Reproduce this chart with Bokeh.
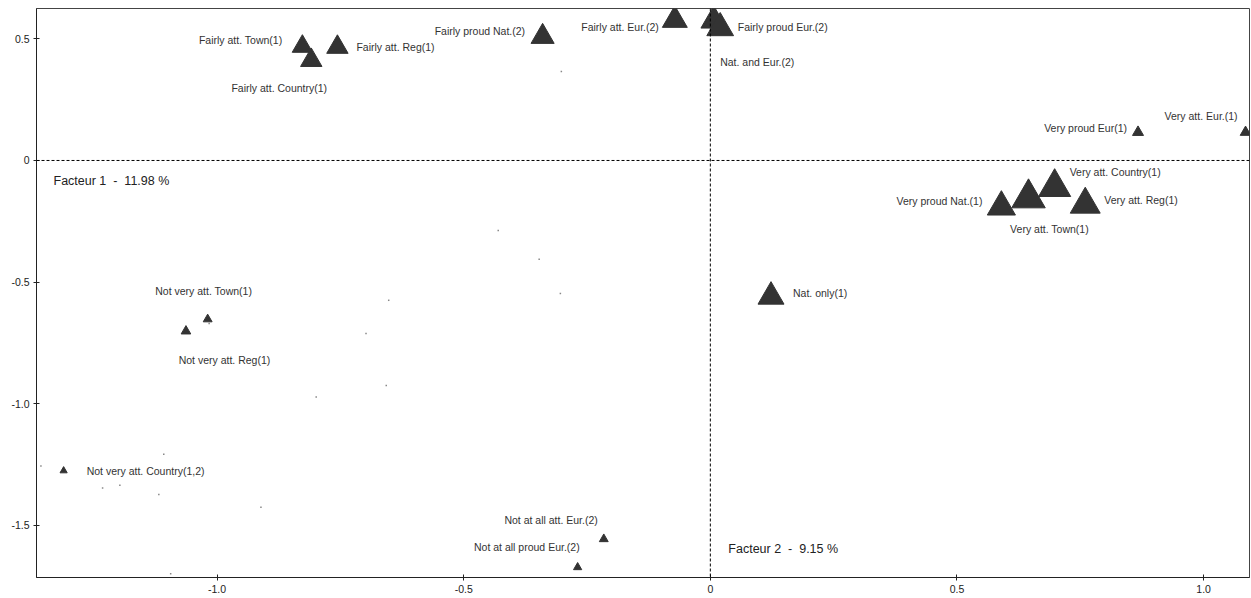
from bokeh.plotting import figure
from bokeh.models import ColumnDataSource, Span, Label, FixedTicker, Range1d
from bokeh.core.properties import value
from bokeh.embed import file_html
from bokeh.resources import INLINE

# ---- data ----
labels = ["Fairly att. Town(1)", "Fairly att. Country(1)", "Fairly att. Reg(1)",
          "Fairly proud Nat.(2)", "Fairly att. Eur.(2)", "Fairly proud Eur.(2)",
          "Nat. and Eur.(2)", "Very proud Eur(1)", "Very att. Eur.(1)",
          "Very att. Country(1)", "Very att. Town(1)", "Very proud Nat.(1)",
          "Very att. Reg(1)", "Nat. only(1)", "Not very att. Town(1)",
          "Not very att. Reg(1)", "Not very att. Country(1,2)",
          "Not at all att. Eur.(2)", "Not at all proud Eur.(2)"]
fac1 = [-0.827, -0.809, -0.756, -0.340, -0.072, 0.007, 0.020, 0.867, 1.085,
        0.698, 0.645, 0.590, 0.760, 0.123, -1.019, -1.063, -1.311, -0.216, -0.269]
fac2 = [0.469, 0.412, 0.466, 0.509, 0.577, 0.575, 0.545, 0.116, 0.116,
        -0.110, -0.155, -0.191, -0.181, -0.560, -0.653, -0.702, -1.276, -1.557, -1.673]
weight = [19, 20, 20, 21.6, 23.3, 24, 25, 10.3, 10, 30, 31.3, 26.3, 28, 24.3,
          8.3, 9, 6.7, 8.3, 7.7]

minor_x = [-0.302, -0.430, -0.347, -0.304, -0.652, -0.698, -0.657, -0.799, -1.357,
           -1.108, -1.232, -1.197, -1.118, -0.911, -1.094, -1.016]
minor_y = [0.366, -0.288, -0.406, -0.547, -0.575, -0.712, -0.925, -0.973, -1.256,
           -1.208, -1.347, -1.336, -1.374, -1.426, -1.700, -0.670]

x_ticks = [-1.0, -0.5, 0, 0.5, 1.0]
x_tick_labels = ["-1.0", "-0.5", "0", "0.5", "1.0"]
y_ticks = [0.5, 0, -0.5, -1.0, -1.5]
y_tick_labels = ["0.5", "0", "-0.5", "-1.0", "-1.5"]

NB = "\u00a0"
factor1_label = f"Facteur 1{NB}{NB}-{NB}{NB}11.98 %"
factor2_label = f"Facteur 2{NB}{NB}-{NB}{NB}9.15 %"

# ---- label layout (screen px offsets, y down) ----
align = ["right", "center", "left", "right", "right", "left", "left", "right", "right",
         "left", "center", "right", "left", "left", "center", "center", "left", "right", "right"]
dx = [-20, -32, 19, -17.5, -16, 24, 0, -11, -8, 15, 21, -19, 19, 22, -4, 38.5, 23, -6, 2]
dy = [-6, 28, 0, -6, 6.5, 6, 34, -4, -16, -15, 30.6, -6, -4, -4, -28, 28.5, 0, -19, -20]

FONT = "Liberation Sans"
INK = "#333333"

p = figure(width=1251, height=598, output_backend="svg", toolbar_location=None,
           x_range=Range1d(-1.366, 1.093), y_range=Range1d(-1.715, 0.625),
           min_border_left=36, min_border_right=2, min_border_top=8, min_border_bottom=21)
p.xgrid.visible = False
p.ygrid.visible = False
p.outline_line_color = "#444444"
p.background_fill_color = "white"

for ax, ticks, tl in ((p.xaxis[0], x_ticks, x_tick_labels), (p.yaxis[0], y_ticks, y_tick_labels)):
    ax.ticker = FixedTicker(ticks=ticks)
    ax.major_label_overrides = {t: l for t, l in zip(ticks, tl)}
    ax.minor_tick_line_color = None
    ax.major_tick_in = 3
    ax.major_tick_out = 3
    ax.axis_line_color = "#222222"
    ax.major_tick_line_color = "#222222"
    ax.major_label_text_font = FONT
    ax.major_label_text_font_size = "10.5px"
    ax.major_label_text_color = "#222222"
    ax.major_label_standoff = 4

p.add_layout(Span(location=0, dimension="width", line_color="black", line_dash="3 2", line_width=1))
p.add_layout(Span(location=0, dimension="height", line_color="black", line_dash="3 2", line_width=1))

p.scatter(minor_x, minor_y, marker="square", size=1.5, fill_color="#888888", line_color=None)

src = ColumnDataSource(dict(x=fac1, y=fac2, w=[v * 1.07 for v in weight], lab=labels,
                            al=align, dx=dx, dy=dy))
p.scatter("x", "y", source=src, marker="triangle", size="w", fill_color=INK, line_color=INK)
p.text("x", "y", text="lab", source=src, text_align="al", text_baseline="middle",
       x_offset="dx", y_offset="dy", text_font=value(FONT), text_font_size="10.5px",
       text_color=INK)

p.add_layout(Label(x=-1.366, y=0, x_offset=17, y_offset=-21, text=factor1_label,
                   text_font=FONT, text_font_size="12.5px", text_color="#222222",
                   text_baseline="middle"))
p.add_layout(Label(x=0, y=-1.715, x_offset=18, y_offset=29, text=factor2_label,
                   text_font=FONT, text_font_size="12.5px", text_color="#222222",
                   text_baseline="middle"))

open("out.html", "w").write(file_html(p, INLINE))
